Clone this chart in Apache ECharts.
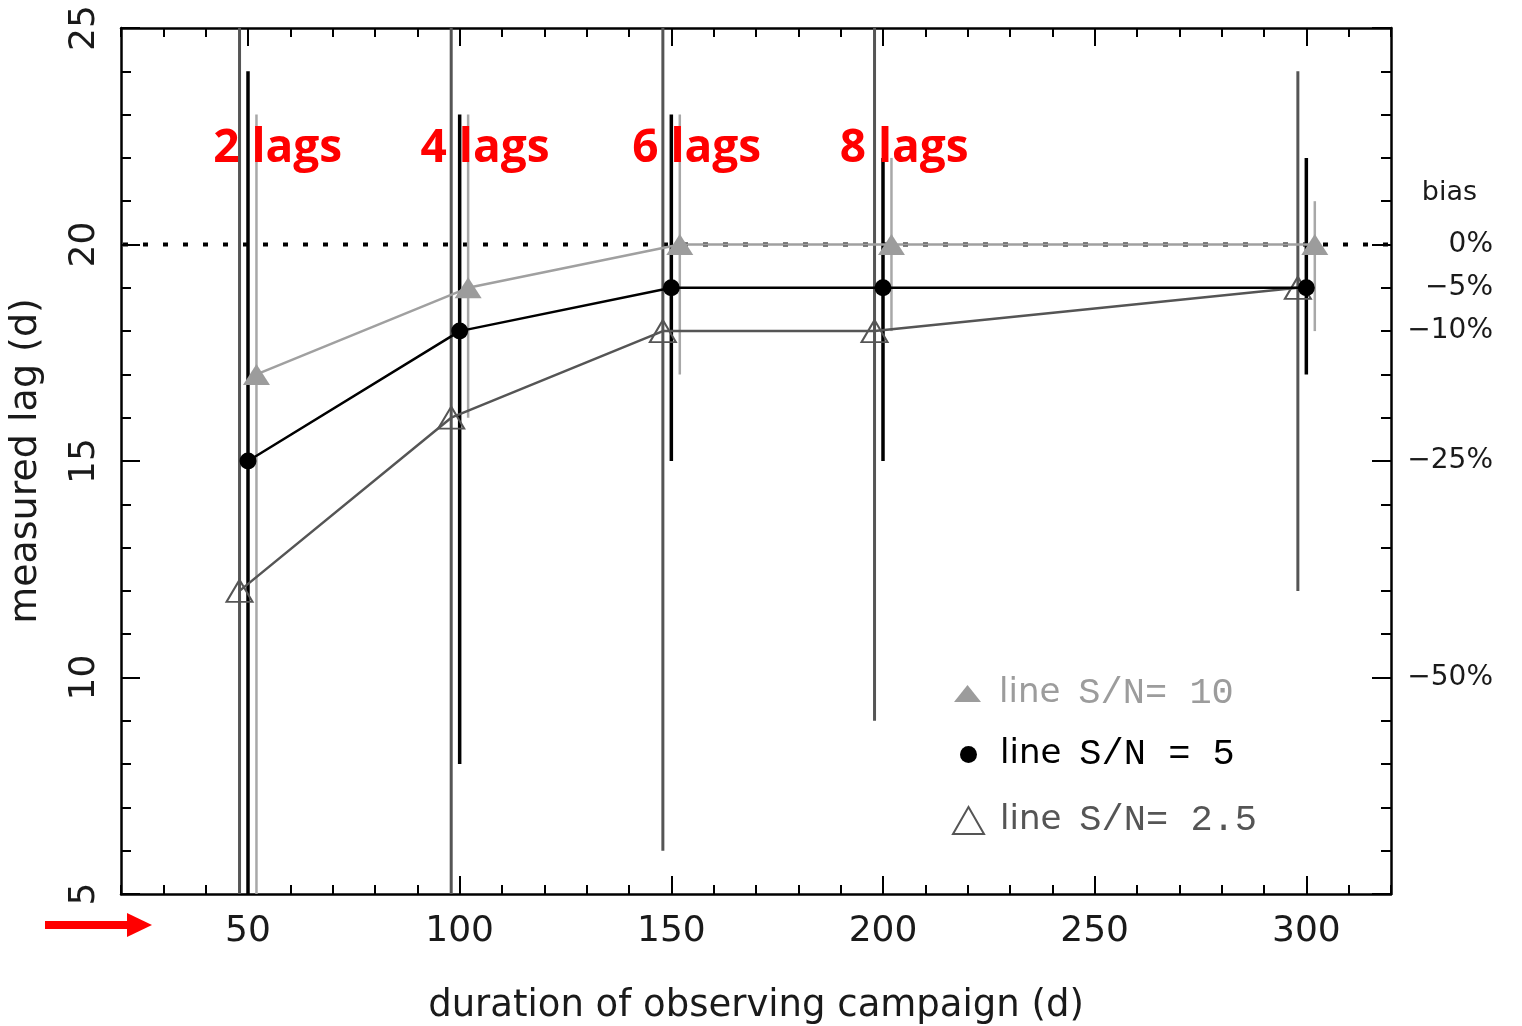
<!DOCTYPE html>
<html><head><meta charset="utf-8">
<script src="https://cdn.jsdelivr.net/npm/echarts@6/dist/echarts.min.js"></script>
<style>html,body{margin:0;padding:0;background:#fff}#c{width:1522px;height:1026px}</style>
</head><body><div id="c"></div>
<script>
// ---- data ----
const name10 = 'line S/N= 10';
const x10 = [52, 102, 152, 202, 302];
const lag10 = [17, 19, 20, 20, 20];
const lo10 = [4, 16, 17, 18, 18];
const hi10 = [23, 23, 23, 22, 21];

const name5 = 'line S/N = 5';
const x5 = [50, 100, 150, 200, 300];
const lag5 = [15, 18, 19, 19, 19];
const lo5 = [4, 8, 15, 15, 17];
const hi5 = [24, 23, 23, 22, 22];

const name25 = 'line S/N= 2.5';
const x25 = [48, 98, 148, 198, 298];
const lag25 = [12, 16, 18, 18, 19];
const lo25 = [4, 4, 6, 9, 12];
const hi25 = [26, 26, 26, 26, 24];

const xTickLabels = [50, 100, 150, 200, 250, 300];
const biasValues = [20, 19, 18, 15, 10];
const biasLabels = ['0%', '\u22125%', '\u221210%', '\u221225%', '\u221250%'];
const biasTitle = 'bias';
const trueLag = 20;
const lagNoteX = [57, 106, 156, 205];
const lagNoteY = 22.2;
const lagNoteText = ['2 lags', '4 lags', '6 lags', '8 lags'];

// ---- chart ----
const X_MIN = 20, X_MAX = 320, Y_MIN = 5, Y_MAX = 25;
const C10 = '#9c9c9c', C5 = '#000000', C25 = '#555555';
const TXT = '#1a1a1a';
const FONT = 'DejaVu Sans';
const axisLine = { show: true, onZero: false, lineStyle: { color: '#000', width: 2.5 } };
const tickLine = { color: '#000', width: 2 };

function pairs(xs, ys) { return xs.map((x, i) => [x, ys[i]]); }
function bars(xs, lo, hi) { return xs.map((x, i) => [x, lo[i], hi[i]]); }

function errRender(color, width) {
  return function (params, api) {
    const x = api.value(0);
    const lo = Math.max(api.value(1), Y_MIN);
    const hi = Math.min(api.value(2), Y_MAX);
    const p1 = api.coord([x, lo]);
    const p2 = api.coord([x, hi]);
    return { type: 'line', shape: { x1: p1[0], y1: p1[1], x2: p2[0], y2: p2[1] },
      style: { stroke: color, lineWidth: width } };
  };
}

function errSeries(name, data, color, width, z) {
  return { type: 'custom', name: name + ' err', data: data, renderItem: errRender(color, width),
    encode: { x: 0, y: [1, 2] }, silent: true, z: z };
}

function makeLegend(name, icon, w, h, color, itemStyle, top, left, padLeft) {
  return {
    data: [{ name: name, icon: icon, itemStyle: itemStyle,
      textStyle: { color: color, rich: {
        a: { fontFamily: FONT, fontSize: 34, color: color, padding: [0, 18, 0, padLeft] },
        b: { fontFamily: 'Liberation Mono', fontSize: 37, color: color } } } }],
    left: left, top: top, itemWidth: w, itemHeight: h, selectedMode: false,
    formatter: n => '{a|line}{b|' + n.replace('line ', '') + '}'
  };
}

const option = {
  backgroundColor: '#fff',
  animation: false,
  grid: { left: 121, right: 131, top: 28, bottom: 132, containLabel: false, outerBoundsMode: 'none' },
  xAxis: [
    { type: 'value', min: X_MIN, max: X_MAX, interval: 10, position: 'bottom',
      axisLine: axisLine, axisTick: { show: true, inside: true, length: 9, lineStyle: tickLine },
      axisLabel: { formatter: v => xTickLabels.includes(v) ? String(v) : '', margin: 20,
        fontSize: 36, fontFamily: FONT, color: TXT },
      splitLine: { show: false },
      name: 'duration of observing campaign (d)', nameLocation: 'middle', nameGap: 94,
      nameTextStyle: { fontSize: 37, fontFamily: FONT, color: TXT } },
    { type: 'value', min: X_MIN, max: X_MAX, position: 'bottom',
      axisLine: { show: false }, axisLabel: { show: false }, splitLine: { show: false },
      axisTick: { show: true, inside: true, length: 18, customValues: xTickLabels, lineStyle: tickLine } },
    { type: 'value', min: X_MIN, max: X_MAX, interval: 10, position: 'top',
      axisLine: axisLine, axisTick: { show: true, inside: true, length: 9, lineStyle: tickLine },
      axisLabel: { show: false }, splitLine: { show: false } },
    { type: 'value', min: X_MIN, max: X_MAX, position: 'top',
      axisLine: { show: false }, axisLabel: { show: false }, splitLine: { show: false },
      axisTick: { show: true, inside: true, length: 18, customValues: xTickLabels, lineStyle: tickLine } }
  ],
  yAxis: [
    { type: 'value', min: Y_MIN, max: Y_MAX, interval: 5, position: 'left',
      axisLine: axisLine, axisTick: { show: true, inside: true, length: 19, lineStyle: tickLine },
      minorTick: { show: true, splitNumber: 5, length: 10, lineStyle: tickLine },
      axisLabel: { rotate: 90, margin: 18, fontSize: 36, fontFamily: FONT, color: TXT },
      splitLine: { show: false }, minorSplitLine: { show: false },
      name: 'measured lag (d)', nameLocation: 'middle', nameRotate: 90, nameGap: 76,
      nameTextStyle: { fontSize: 38, fontFamily: FONT, color: TXT } },
    { type: 'value', min: Y_MIN, max: Y_MAX, interval: 5, position: 'right',
      axisLine: axisLine, axisTick: { show: true, inside: true, length: 19, lineStyle: tickLine },
      minorTick: { show: true, splitNumber: 5, length: 10, lineStyle: tickLine },
      axisLabel: { show: false }, splitLine: { show: false } },
    { type: 'value', min: Y_MIN, max: Y_MAX, interval: 1, position: 'right',
      axisLine: { show: false }, axisTick: { show: false }, splitLine: { show: false },
      axisLabel: { align: 'right', margin: 102, fontSize: 28, fontFamily: FONT, color: TXT,
        formatter: v => { const i = biasValues.indexOf(v); if (i >= 0) return biasLabels[i];
          if (v === 21) return '{t|' + biasTitle + '}'; return ''; },
        rich: { t: { fontSize: 27, fontFamily: FONT, color: TXT, padding: [0, 16, 16, 0] } } } }
  ],
  legend: [
    makeLegend(name10, 'triangle', 27, 17, C10, { color: C10 }, 670, 949, 13),
    makeLegend(name5, 'circle', 17, 17, C5, { color: C5 }, 731, 955, 18),
    makeLegend(name25, 'triangle', 31, 27, C25, { color: 'transparent', borderColor: C25, borderWidth: 2 }, 797, 947, 11)
  ],
  graphic: [
    { type: 'group', silent: true, children: [
      { type: 'rect', shape: { x: 45, y: 921, width: 85, height: 8 }, style: { fill: '#ff0000' } },
      { type: 'polygon', shape: { points: [[127, 913], [152, 925], [127, 937]] }, style: { fill: '#ff0000' } }
    ] }
  ],
  series: [
    { type: 'line', name: 'true lag', data: [[X_MIN, trueLag], [X_MAX, trueLag]], symbol: 'none', silent: true,
      lineStyle: { color: '#000', width: 4, type: [5, 15], dashOffset: -2 }, z: 1 },
    errSeries(name25, bars(x25, lo25, hi25), C25, 3, 2),
    errSeries(name10, bars(x10, lo10, hi10), '#a8a8a8', 2.5, 2),
    errSeries(name5, bars(x5, lo5, hi5), C5, 3.5, 2),
    { type: 'line', name: name25, data: pairs(x25, lag25), symbol: 'triangle', symbolSize: [26, 22],
      itemStyle: { color: 'transparent', borderColor: C25, borderWidth: 2 },
      lineStyle: { color: C25, width: 2.5 }, z: 3 },
    { type: 'line', name: name10, data: pairs(x10, lag10), symbol: 'triangle', symbolSize: [27, 21],
      itemStyle: { color: C10 }, lineStyle: { color: '#a0a0a0', width: 2.5 }, z: 3 },
    { type: 'line', name: name5, data: pairs(x5, lag5), symbol: 'circle', symbolSize: 17,
      itemStyle: { color: C5 }, lineStyle: { color: C5, width: 2.5 }, z: 4 },
    { type: 'scatter', name: 'notes', symbolSize: 1, itemStyle: { color: 'transparent', opacity: 1 }, silent: true, z: 10,
      data: lagNoteX.map((x, i) => ({ value: [x, lagNoteY], name: lagNoteText[i] })),
      label: { show: true, position: 'inside', formatter: '{b}', color: '#ff0000', opacity: 1,
        fontFamily: 'Open Sans', fontWeight: 'bold', fontSize: 46 } }
  ]
};

const chart = echarts.init(document.getElementById('c'), null, { renderer: 'canvas' });
chart.setOption(option);
</script>
</body></html>
